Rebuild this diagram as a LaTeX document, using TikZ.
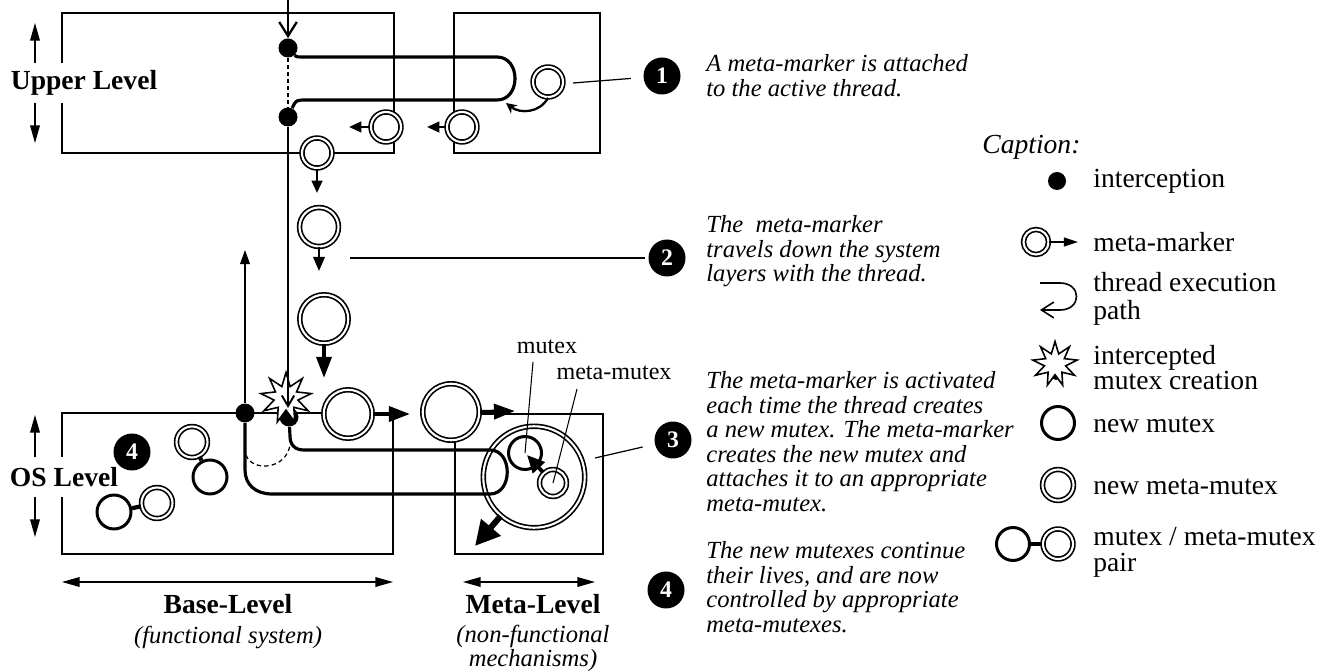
\documentclass[tikz,border=0pt]{standalone}
\usepackage{fontspec}
\setmainfont{Liberation Serif}
\usepackage{tikz}
\usetikzlibrary{arrows.meta,calc,shapes.geometric}

\begin{document}
\begin{tikzpicture}[x=0.02cm, y=-0.02cm,
		box/.style={line width=0.75pt},
		dot/.style={circle, fill, inner sep=0, minimum size=0.38cm},
		mm/.style={circle, draw, double, double distance=1.2pt, line width=0.95pt, fill=white, inner sep=0, minimum size=#1},
		mx/.style={circle, draw, line width=1.7pt, fill=white, inner sep=0, minimum size=#1},
		thread/.style={line width=1.8pt},
		badge/.style={circle, fill, text=white, font=\fontsize{13.5}{13.5}\selectfont\bfseries, inner sep=0, minimum size=0.74cm},
		note/.style={anchor=north west, align=left, inner sep=0, font=\fontsize{14}{14}\selectfont\itshape},
		legtxt/.style={anchor=west, inner sep=0, font=\fontsize{15.7}{15}\selectfont},
		legmore/.style={anchor=north west, align=left, inner sep=0, font=\fontsize{15.7}{14.5}\selectfont},
		lbl/.style={inner sep=0, font=\fontsize{15.7}{16}\selectfont\bfseries},
		lvl/.style={lbl, fill=white, minimum height=0.8cm},
		sub/.style={inner sep=0, align=center, font=\fontsize{14}{11.5}\selectfont\itshape},
		tag/.style={inner sep=0, font=\fontsize{13.7}{14}\selectfont},
		lvlarr/.style={line width=0.75pt, {Triangle[length=10pt,width=5.5pt]}-{Triangle[length=10pt,width=5.5pt]}},
		tipS/.style={line width=1.4pt, -{Triangle[length=7pt,width=6pt]}},
		tipM/.style={line width=2.2pt, -{Triangle[length=12pt,width=8.5pt]}},
		tipL/.style={line width=3.4pt, -{Triangle[length=14pt,width=14pt]}}]
	\useasboundingbox (0,0) rectangle (1327,671);

	\draw[box] (62,13) rectangle (394,153);
	\draw[box] (454,13) rectangle (600,153);
	\draw[box] (62,413) rectangle (393,554);
	\draw[box] (455,414) rectangle (603,554);

	\draw[lvlarr] (35,23) -- (35,143);
	\node[lvl] (UL) at (84,83) {Upper Level};
	\draw[lvlarr] (35,415) -- (35,537);
	\node[lvl] (OL) at (64,477) {OS Level};

	\draw[lvlarr] (62,582) -- (393,582);
	\draw[lvlarr] (463,582) -- (595,582);
	\node[lbl] (BL) at (228,604) {Base-Level};
	\node[sub] (BS) at (228,637) {(functional system)};
	\node[lbl] (ML) at (533,604) {Meta-Level};
	\node[sub] (MS) at (533,648) {(non-functional\\ mechanisms)};

	\node[mm=2.03cm] (BM) at (534,477) {};

	\node[dot] (D1) at (288,48) {};
	\node[dot] (D2) at (288,117) {};
	\node[dot] (D3) at (289,417) {};
	\node[dot] (D4) at (245,413) {};
	\draw[dash pattern=on 2.5pt off 1.5pt, line width=0.7pt] (D1) -- (D2);
	\draw[thread] (D1) .. controls (296,57) .. (307,57) -- (497,57)
		.. controls (521,57) and (521,100) .. (497,100) -- (307,100) .. controls (296,100) .. (D2);
	\draw[thread] (D4) -- (245,470) .. controls (245,485) and (256,494) .. (272,494) -- (490,494)
		.. controls (513,494) and (513,450) .. (490,450) -- (304,450)
		.. controls (295,450) and (290,445) .. (290,436) -- (D3);
	\draw[dash pattern=on 2.5pt off 1.8pt, line width=0.7pt] (246,455) .. controls (252,472) and (286,470) .. (290,445);

	\node[star, star points=9, star point ratio=2.1, draw, fill=white, line width=0.9pt, minimum size=1.02cm, inner sep=0] (S) at (286,398) {};
	\coordinate (top) at (288,0);
	\coordinate (sx) at (288,408);
	\coordinate (up) at (245,250);
	\draw[line width=1.3pt, -{Straight Barb[length=8pt,width=10pt]}] (top) -- (D1.north);
	\draw[line width=1.1pt, -{Straight Barb[length=6pt,width=7pt]}] (D2) -- (sx);
	\draw[line width=0.9pt, -{Triangle[length=8pt,width=5.5pt]}] (D4) -- (up);

	\node[mm=0.6cm] (M1) at (548,82) {};
	\node[mm=0.6cm] (M2) at (462,127) {};
	\node[mm=0.6cm] (M3) at (386,127) {};
	\node[mm=0.6cm] (M4) at (317,153) {};
	\node[mm=0.78cm] (M5) at (319,227) {};
	\node[mm=0.97cm] (M6) at (324,319) {};
	\node[mm=0.97cm] (M7) at (348,414) {};
	\node[mm=1.13cm] (M8) at (451,412) {};
	\coordinate (a1) at (506,103);
	\draw[line width=1.3pt, -{Stealth[length=6pt,width=6pt]}] (M1.south) .. controls (540,113) and (520,114) .. (a1);
	\coordinate (t2) at (427,127);
	\coordinate (t3) at (349,127);
	\coordinate (t4) at (317,193);
	\coordinate (t5) at (319,271);
	\coordinate (t6) at (324,378);
	\coordinate (t7) at (410,414);
	\coordinate (t8) at (515,411);
	\draw[tipS] (M2.west) -- (t2);
	\draw[tipS] (M3.west) -- (t3);
	\draw[tipS] (M4.south) -- (t4);
	\draw[tipS, -{Triangle[length=8pt,width=6.5pt]}] (M5.south) -- (t5);
	\draw[tipM] (M6.south) -- (t6);
	\draw[tipM] (M7.east) -- (t7);
	\draw[tipM] (M8.east) -- (t8);

	\node[mx=0.66cm] (MX) at (525,453) {};
	\node[mm=0.54cm] (MMX) at (553,483) {};
	\coordinate (mt) at (527,455);
	\draw[line width=2.2pt, -{Triangle[length=10pt,width=9pt]}] (MMX) -- (mt);
	\coordinate (bt) at (475,546);
	\draw[tipL] (BM) -- (bt);
	\node[tag] (LM) at (547,347) {mutex};
	\node[tag] (LMM) at (614,373) {meta-mutex};
	\coordinate (c1) at (533,362);
	\coordinate (c2) at (577,389);
	\draw[line width=0.6pt] (c1) -- (MX.center);
	\draw[line width=0.6pt] (c2) -- (MMX.center);

	\node[mm=0.62cm] (P1) at (192,442) {};
	\node[mx=0.68cm] (Q1) at (210,477) {};
	\node[mx=0.68cm] (Q2) at (114,512) {};
	\node[mm=0.62cm] (P2) at (157,503) {};
	\draw[line width=2.4pt] (P1) -- (Q1);
	\draw[line width=2.4pt] (Q2) -- (P2);
	\node[badge] (B4a) at (132,452) {4};

	\node[badge] (B1) at (662,76) {1};
	\node[badge] (B2) at (667,258) {2};
	\node[badge] (B3) at (673,440) {3};
	\node[badge] (B4) at (666,590) {4};
	\coordinate (c3) at (573,83);
	\coordinate (c4) at (350,258);
	\coordinate (c5) at (595,458);
	\draw[line width=0.7pt, shorten >=7pt] (c3) -- (B1);
	\draw[line width=0.7pt, shorten >=2pt] (c4) -- (B2);
	\draw[line width=0.7pt, shorten >=7pt] (c5) -- (B3);
	\node[note] (N1) at (706,54) {A meta-marker is attached\\to the active thread.};
	\node[note] (N2) at (706,215) {The\ \ meta-marker\\travels down the system\\layers with the thread.};
	\node[note] (N3) at (706,371) {The meta-marker is activated\\each time the thread creates\\a new mutex. The meta-marker\\creates the new mutex and\\attaches it to an appropriate\\meta-mutex.};
	\node[note] (N4) at (706,541) {The new mutexes continue\\their lives, and are now\\controlled by appropriate\\meta-mutexes.};

	\node[legtxt, font=\fontsize{15.7}{15}\selectfont\itshape] (CP) at (982,147) {Caption:};
	\node[dot, minimum size=0.36cm] (LD) at (1057,181) {};
	\node[legtxt] (L1) at (1093,181) {interception};
	\node[mm=0.5cm] (LM1) at (1036,242) {};
	\coordinate (lt) at (1078,242);
	\draw[line width=1pt, -{Triangle[length=8pt,width=5pt]}] (LM1.east) -- (lt);
	\node[legtxt] (L2) at (1093,242) {meta-marker};
	\coordinate (p0) at (1040,283);
	\coordinate (p1) at (1040,310);
	\draw[line width=0.9pt, -{Straight Barb[length=7pt,width=9pt]}] (p0) -- (1060,283)
		.. controls (1082,283) and (1082,310) .. (1060,310) -- (p1);
	\node[legmore, font=\fontsize{15.7}{16}\selectfont] (L3) at (1093,272) {thread execution\\path};
	\node[dot, minimum size=0.2cm] (LD2) at (1056,375) {};
	\node[star, star points=9, star point ratio=2.1, draw, fill=white, line width=0.9pt, minimum size=0.9cm, inner sep=0] (LS) at (1055,364) {};
	\node[legmore] (L4) at (1093,345) {intercepted\\mutex creation};
	\node[mx=0.66cm] (LX) at (1058,423) {};
	\node[legtxt] (L5) at (1093,425) {new mutex};
	\node[mm=0.62cm] (LMM) at (1058,485) {};
	\node[legtxt] (L6) at (1093,487) {new meta-mutex};
	\node[mx=0.66cm] (LQ) at (1013,544) {};
	\node[mm=0.6cm] (LP) at (1058,544) {};
	\draw[line width=2.4pt] (LQ) -- (LP);
	\node[legmore] (L7) at (1093,527) {mutex / meta-mutex\\pair};
\end{tikzpicture}
\end{document}
